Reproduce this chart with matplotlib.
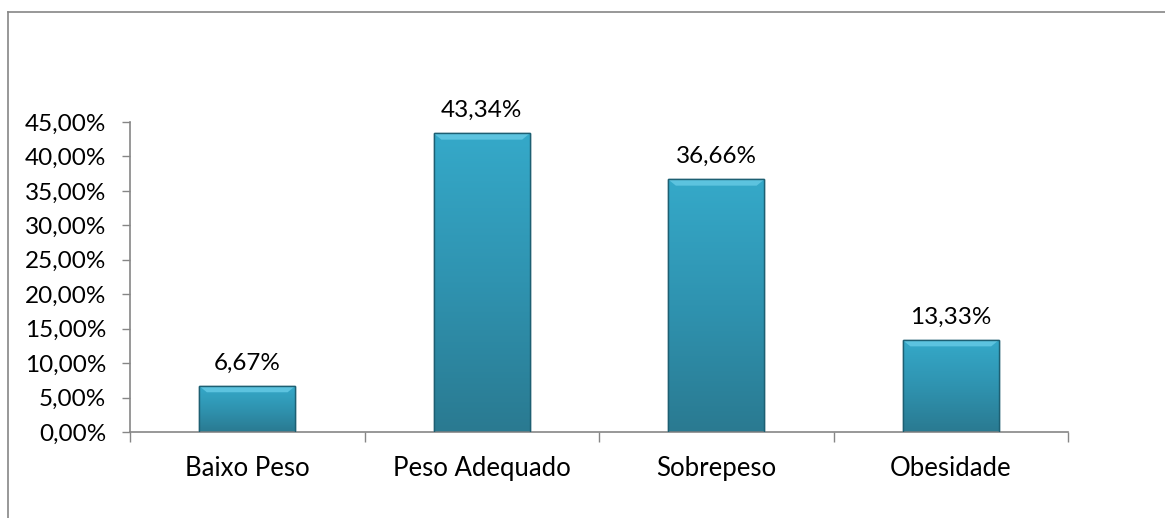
import numpy as np
import matplotlib.pyplot as plt
from matplotlib.lines import Line2D

categories = ["Baixo Peso", "Peso Adequado", "Sobrepeso", "Obesidade"]
values = [6.67, 43.34, 36.66, 13.33]
value_labels = ["6,67%", "43,34%", "36,66%", "13,33%"]
y_ticks = [0, 5, 10, 15, 20, 25, 30, 35, 40, 45]
y_tick_labels = ["0,00%", "5,00%", "10,00%", "15,00%", "20,00%",
                 "25,00%", "30,00%", "35,00%", "40,00%", "45,00%"]

plt.rcParams["font.family"] = ["Lato", "DejaVu Sans"]

AXIS_GREY = "#868686"
BAR_WIDTH = 0.41


def main():
    fig = plt.figure(figsize=(11.65, 5.18), dpi=100)
    ax = fig.add_axes([130 / 1165, 1 - 432 / 518, 938 / 1165, 310 / 518])

    x = np.arange(len(categories))
    bars = ax.bar(x, values, width=BAR_WIDTH, color="#2f97b5",
                  edgecolor="#1d5f72", linewidth=1.0, zorder=2)

    # vertical gradient clipped to each bar, plus a light bevel at the top
    grad = np.linspace(0, 1, 256).reshape(-1, 1)
    cmap = plt.matplotlib.colors.LinearSegmentedColormap.from_list(
        "bar", ["#2a7a91", "#2f93b0", "#35a9c9"])
    for b in bars:
        x0, w, h = b.get_x(), b.get_width(), b.get_height()
        im = ax.imshow(grad, extent=[x0, x0 + w, 0, h], origin="lower",
                       cmap=cmap, aspect="auto", zorder=2.5)
        im.set_clip_path(b)
        bevel = 0.9
        ax.fill([x0, x0 + w, x0 + w * 0.92, x0 + w * 0.08],
                [h, h, h - bevel, h - bevel],
                color="#5cc3df", zorder=3, lw=0)
        ax.add_patch(plt.Rectangle((x0, 0), w, h, fill=False,
                                   edgecolor="#1d5f72", lw=1.0, zorder=4))

    for xi, v, lab in zip(x, values, value_labels):
        ax.annotate(lab, (xi, v), xytext=(0, 9), textcoords="offset points",
                    ha="center", va="bottom", fontsize=17.5)

    ax.set_xlim(-0.5, len(categories) - 0.5)
    ax.set_ylim(0, 45)

    ax.set_yticks(y_ticks)
    ax.set_yticklabels(y_tick_labels, fontsize=17.5)
    ax.tick_params(axis="y", direction="out", length=6, width=1,
                   color=AXIS_GREY, pad=11)

    ax.set_xticks(np.arange(len(categories) + 1) - 0.5)
    ax.set_xticklabels([])
    ax.tick_params(axis="x", which="major", direction="out", length=7,
                   width=1, color=AXIS_GREY)
    ax.set_xticks(x, minor=True)
    ax.set_xticklabels(categories, minor=True, fontsize=18.5)
    ax.tick_params(axis="x", which="minor", length=0, pad=17)

    for s in ["top", "right"]:
        ax.spines[s].set_visible(False)
    for s in ["left", "bottom"]:
        ax.spines[s].set_color(AXIS_GREY)
        ax.spines[s].set_linewidth(1.2)

    # chart area border (only top and left visible in the crop)
    fig.add_artist(Line2D([8 / 1165, 8 / 1165], [0, 1 - 12 / 518],
                          transform=fig.transFigure, color=AXIS_GREY, lw=1.2))
    fig.add_artist(Line2D([8 / 1165, 1], [1 - 12 / 518, 1 - 12 / 518],
                          transform=fig.transFigure, color=AXIS_GREY, lw=1.2))

    fig.savefig("out.png", dpi=100)


if __name__ == "__main__":
    main()
